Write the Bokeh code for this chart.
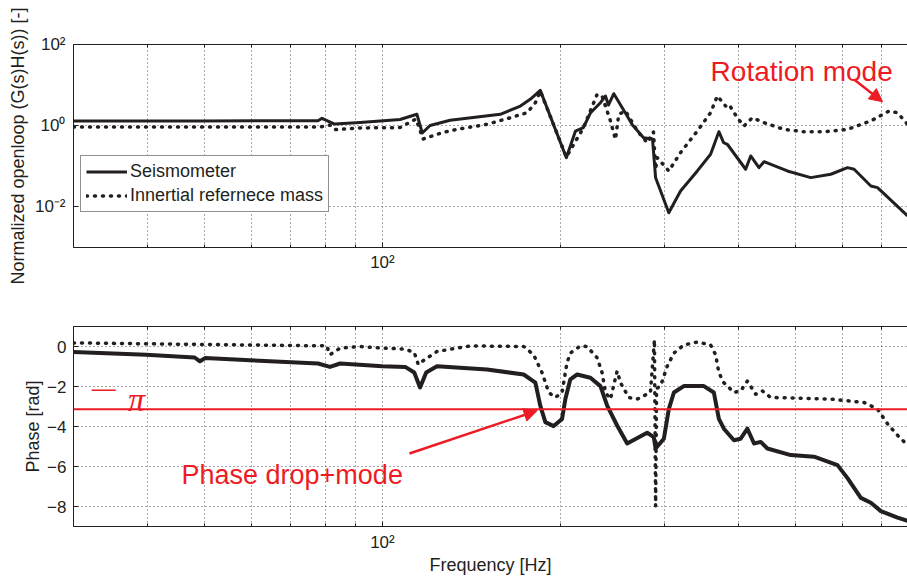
import math
from bokeh.plotting import figure
from bokeh.models import (FixedTicker, CustomJSTickFormatter, Span, Arrow, NormalHead,
                          Legend, LegendItem, LogAxis, Range1d, Label)
from bokeh.layouts import column
from bokeh.embed import file_html
from bokeh.resources import INLINE

# ---------------- data ----------------
# Top panel: normalized open-loop magnitude
seis_mag_f = [30, 49, 77.8, 79, 83, 91.7, 107.1, 114.4, 116.8, 120.4, 130.2, 158.3, 171.2,
              177.9, 185.0, 204.8, 212.2, 218.8, 224.9, 233.9, 238.5, 241.3, 246.4, 259.6,
              265.0, 276.7, 286.5, 290.0, 305.3, 319.6, 341.2, 359.3, 371.1, 378.0, 383.5,
              411.9, 420.1, 433.9, 442.4, 484.6, 530.8, 574.0, 612.6, 628.6, 671.0, 688.7, 774.3]
seis_mag = [1.31, 1.31, 1.33, 1.52, 1.10, 1.20, 1.42, 1.91, 0.66, 1.01, 1.36, 1.91, 3.05,
            4.46, 7.43, 0.163, 0.74, 0.893, 2.05, 3.68, 5.38, 3.23, 6.13, 1.73,
            1.04, 0.507, 0.471, 0.052, 0.0072, 0.0247, 0.0769, 0.198, 0.711, 0.382, 0.349,
            0.0846, 0.180, 0.0926, 0.130, 0.0768, 0.0526, 0.0637, 0.0926, 0.0846, 0.0328, 0.0298, 0.0060]

irm_mag_f = [30, 78.4, 81.5, 83.2, 91.7, 107.1, 114.0, 117.2, 126.1, 133.7, 150.3, 164.6, 175.7,
             181.5, 185.0, 204.8, 218.8, 230.9, 235.4, 243.2, 248.0, 251.2, 257.9, 270.2, 280.6,
             287.6, 290.0, 291.9, 305.3, 319.6, 341.2, 359.3, 368.8, 381.0, 385.9, 398.7, 409.1,
             422.8, 442.4, 478.3, 517.2, 559.2, 612.6, 671.0, 720.3, 744.5, 774.3]
irm_mag = [0.93, 0.93, 1.04, 0.80, 0.88, 0.90, 1.46, 0.47, 0.67, 0.81, 1.08, 1.57, 2.09,
           3.68, 7.14, 0.17, 0.88, 5.92, 5.38, 1.31, 0.46, 1.91, 2.30, 0.74, 0.38,
           0.70, 0.086, 0.163, 0.0768, 0.217, 0.74, 2.09, 5.38, 3.05, 3.36, 1.57, 0.98,
           1.57, 1.19, 0.81, 0.71, 0.71, 0.81, 1.31, 2.30, 2.09, 1.08]

# Bottom panel: phase [rad]
seis_ph_f = [30, 39.8, 48.1, 49.1, 50.1, 59.7, 77.8, 81.5, 84.8, 100, 109.3, 113.2, 115.8, 118.6,
             123.7, 150.3, 173.4, 181.5, 185.0, 188.7, 194.9, 201.4, 204.0, 208.0, 213.6, 224.9,
             233.9, 240.1, 249.6, 259.6, 280.6, 287.9, 290.0, 299.5, 305.3, 311.4, 323.7, 350.0,
             363.9, 371.1, 378.4, 393.5, 404.0, 414.7, 425.6, 436.8, 448.3, 491.1, 537.7, 589.2,
             612.6, 645.3, 671.0, 697.7, 744.6, 774.3]
seis_ph = [-0.28, -0.41, -0.55, -0.74, -0.58, -0.69, -0.85, -1.02, -0.85, -0.99, -1.02, -1.30, -2.05, -1.30,
           -0.99, -1.15, -1.40, -1.81, -2.96, -3.78, -3.98, -3.62, -2.63, -1.64, -1.40, -1.56,
           -1.98, -2.96, -3.95, -4.85, -4.31, -4.53, -5.10, -4.61, -3.13, -2.30, -1.98, -1.98,
           -2.30, -3.62, -4.11, -4.69, -4.61, -4.11, -4.85, -4.77, -5.10, -5.43, -5.51, -5.93,
           -6.58, -7.57, -7.81, -8.23, -8.56, -8.72]

irm_ph_f = [30, 80.5, 81.5, 84.8, 91.7, 100, 109.3, 113.2, 115.0, 116.8, 123.7, 140.8, 173.4,
            180.3, 186.3, 191.2, 196.2, 201.4, 205.3, 208.0, 216.3, 222.0, 230.9, 235.4, 238.5,
            243.2, 249.6, 252.9, 261.2, 269.9, 284.2, 288.7, 290.0, 291.1, 295.6, 303.4, 311.4,
            323.7, 341.2, 359.3, 366.4, 371.1, 378.4, 393.5, 404.0, 414.7, 428.4, 439.5, 454.2,
            504.1, 574.0, 653.8, 688.7, 716.1, 744.6, 774.3]
irm_ph = [0.18, 0.03, -0.41, -0.08, 0.0, -0.08, -0.13, -0.30, -0.90, -0.74, -0.25, 0.03, 0.0,
          -0.41, -1.31, -2.30, -2.55, -2.30, -0.82, -0.33, 0.03, 0.0, -0.57, -1.31, -2.30,
          -2.63, -1.23, -1.81, -2.55, -2.63, -2.30, 0.33, -7.98, -2.10, -1.98, -0.99, -0.33,
          0.08, 0.22, 0.08, -0.41, -1.31, -1.81, -2.30, -2.22, -1.73, -2.39, -2.22, -2.55,
          -2.58, -2.63, -2.80, -3.13, -3.87, -4.44, -4.94]

mag_ticks = [1e-2, 1, 1e2]
phase_ticks = [-8, -6, -4, -2, 0]
freq_major = [100]
freq_minor = [30, 40, 50, 60, 70, 80, 90, 200, 300, 400, 500, 600, 700]

# ---------------- styling ----------------
FONT = "Liberation Sans"
BLACK = "#231f20"
RED = "#ed1c24"
GRID = "#555555"
SUP = """
const e = Math.round(Math.log10(tick));
const m = {"-3":"\u207b\u00b3","-2":"\u207b\u00b2","-1":"\u207b\u00b9","0":"\u2070","1":"\u00b9","2":"\u00b2","3":"\u00b3"};
return "10" + m[String(e)];
"""


def style_axis(ax, font_size="17px"):
    ax.major_label_text_font = FONT
    ax.major_label_text_font_size = font_size
    ax.major_label_text_color = BLACK
    ax.axis_label_text_font = FONT
    ax.axis_label_text_font_size = "18px"
    ax.axis_label_text_font_style = "normal"
    ax.axis_label_text_color = BLACK
    ax.axis_line_color = BLACK
    ax.major_tick_line_color = BLACK
    ax.minor_tick_line_color = BLACK
    ax.major_tick_in = 5
    ax.major_tick_out = 0
    ax.minor_tick_in = 3
    ax.minor_tick_out = 0


def style_fig(p):
    p.outline_line_color = None
    p.background_fill_color = "white"
    p.border_fill_color = "white"
    for g in (p.xgrid[0], p.ygrid[0]):
        g.grid_line_color = GRID
        g.grid_line_dash = "1 3"
        g.grid_line_width = 1
    p.xgrid[0].minor_grid_line_color = GRID
    p.xgrid[0].minor_grid_line_dash = "1 3"
    # bottom x axis
    xa = p.below[0]
    xa.ticker = FixedTicker(ticks=freq_major, minor_ticks=freq_minor)
    xa.formatter = CustomJSTickFormatter(code=SUP)
    style_axis(xa)
    # top frame line (box) with inward ticks, no labels
    top = LogAxis(ticker=FixedTicker(ticks=[], minor_ticks=freq_major + freq_minor))
    style_axis(top)
    p.add_layout(top, "above")
    return xa


x_rng = Range1d(30, 774)

# ---------------- top panel ----------------
p1 = figure(width=907, height=290, x_axis_type="log", y_axis_type="log",
            x_range=x_rng, y_range=Range1d(1e-3, 1e2),
            output_backend="svg", toolbar_location=None,
            min_border_left=73, min_border_right=0, min_border_top=44, min_border_bottom=43)
xa1 = style_fig(p1)
xa1.major_label_standoff = 5
ya = p1.left[0]
ya.ticker = FixedTicker(ticks=mag_ticks, minor_ticks=[])
ya.formatter = CustomJSTickFormatter(code=SUP)
style_axis(ya)
ya.minor_tick_line_color = None
ya.major_label_standoff = 8
ya.axis_label_standoff = 4
ya.axis_label = "Normalized openloop (G(s)H(s)) [-]"

r1 = p1.line(seis_mag_f, seis_mag, line_color=BLACK, line_width=3, line_join="round")
r2 = p1.line(irm_mag_f, irm_mag, line_color=BLACK, line_width=3.5, line_dash="1 7",
             line_cap="round", line_join="round")

legend = Legend(items=[LegendItem(label="Seismometer", renderers=[r1]),
                       LegendItem(label="Innertial refernece mass", renderers=[r2])],
                location=(7, 35))
legend.border_line_color = BLACK
legend.border_line_width = 1
legend.background_fill_alpha = 1
legend.label_text_font = FONT
legend.label_text_font_size = "18px"
legend.label_text_color = BLACK
legend.glyph_width = 41
legend.glyph_height = 21
legend.label_height = 21
legend.label_standoff = 3
legend.padding = 5
legend.spacing = 3
legend.margin = 0
p1.add_layout(legend)

p1.add_layout(Label(x=359.3, y=22.2, text="Rotation mode", text_color=RED,
                    text_font=FONT, text_font_size="28px",
                    text_align="left", text_baseline="alphabetic"))
p1.add_layout(Arrow(end=NormalHead(size=13, fill_color=RED, line_color=RED),
                    x_start=628.5, y_start=13.8, x_end=702.3, y_end=3.89,
                    line_color=RED, line_width=2.5))

# ---------------- bottom panel ----------------
p2 = figure(width=907, height=287, x_axis_type="log",
            x_range=x_rng, y_range=Range1d(-9, 1),
            output_backend="svg", toolbar_location=None,
            min_border_left=73, min_border_right=0, min_border_top=36, min_border_bottom=48)
xa2 = style_fig(p2)
xa2.major_label_standoff = 6
xa2.axis_label = "Frequency [Hz]"
xa2.axis_label_standoff = 0
yb = p2.left[0]
yb.ticker = FixedTicker(ticks=phase_ticks, minor_ticks=[])
style_axis(yb)
yb.minor_tick_line_color = None
yb.major_label_standoff = 7
yb.axis_label_standoff = 1
yb.axis_label = "Phase [rad]"

p2.add_layout(Span(location=-math.pi, dimension="width", line_color=RED, line_width=2))
p2.line(seis_ph_f, seis_ph, line_color=BLACK, line_width=4, line_join="round")
p2.line(irm_ph_f, irm_ph, line_color=BLACK, line_width=3.5, line_dash="1 7",
        line_cap="round", line_join="round")

p2.add_layout(Label(x=32.2, y=-2.05, text="\u2014", text_color=RED,
                    text_font=FONT, text_font_size="24px",
                    text_align="left", text_baseline="middle"))
p2.add_layout(Label(x=37.1, y=-2.63, text="\u03c0", text_color=RED,
                    text_font="Liberation Serif", text_font_size="34px",
                    text_font_style="italic",
                    text_align="left", text_baseline="alphabetic"))
p2.add_layout(Label(x=45.7, y=-6.42, text="Phase drop+mode", text_color=RED,
                    text_font=FONT, text_font_size="27px",
                    text_align="left", text_baseline="alphabetic"))
p2.add_layout(Arrow(end=NormalHead(size=13, fill_color=RED, line_color=RED),
                    x_start=111.1, y_start=-5.35, x_end=182.7, y_end=-3.21,
                    line_color=RED, line_width=2.5))

layout = column(p1, p2)
open("out.html", "w").write(file_html(layout, INLINE))
